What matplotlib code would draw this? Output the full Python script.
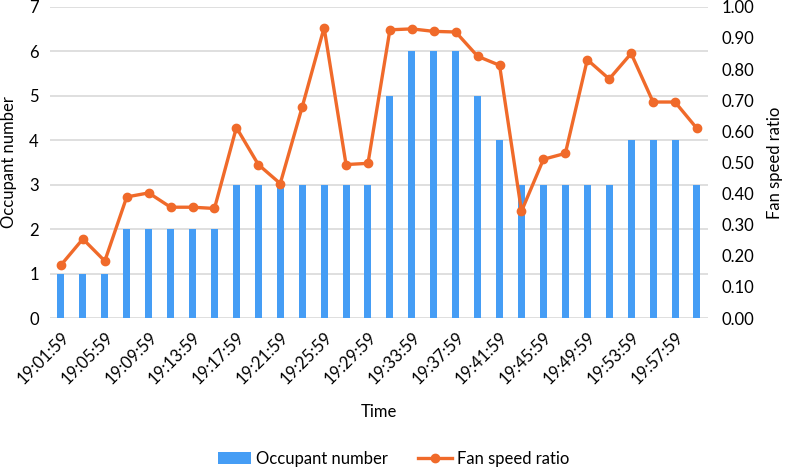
import matplotlib
matplotlib.use("Agg")
import matplotlib.pyplot as plt
import numpy as np

plt.rcParams['font.family'] = ['Lato', 'DejaVu Sans']

# --- data ---
times = ["19:%02d:59" % m for m in range(1, 60, 2)]
occupants = [1, 1, 1, 2, 2, 2, 2, 2, 3, 3, 3, 3, 3, 3, 3,
             5, 6, 6, 6, 5, 4, 3, 3, 3, 3, 3, 4, 4, 4, 3]
fan_ratio = [0.170, 0.254, 0.183, 0.389, 0.402, 0.356, 0.356, 0.352, 0.612, 0.493,
             0.432, 0.678, 0.933, 0.493, 0.497, 0.926, 0.929, 0.921, 0.919, 0.841,
             0.812, 0.343, 0.510, 0.529, 0.830, 0.768, 0.850, 0.694, 0.694, 0.609]
left_ticks = list(range(0, 8))
right_ticks = [i / 10 for i in range(0, 11)]

bar_color = '#459DF5'
line_color = '#F06A2A'
grid_color = '#D9D9D9'
fs = 12

fig = plt.figure(figsize=(7.87, 4.68), dpi=100)
ax = fig.add_axes([0.0635, 0.3205, 0.836, 0.665])
x = np.arange(len(times))

bars = ax.bar(x, occupants, width=0.32, color=bar_color, zorder=2,
              label='Occupant number')
ax.set_ylim(0, 7)
ax.set_xlim(-0.5, len(times) - 0.5)
ax.set_yticks(left_ticks)
ax.yaxis.grid(True, color=grid_color, lw=1.2, zorder=0)
ax.set_axisbelow(True)
for s in ax.spines.values():
    s.set_visible(False)
ax.tick_params(length=0, labelsize=fs, pad=8)
ax.set_xticks(x[::2])
ax.set_xticklabels(times[::2], rotation=45, ha='right', rotation_mode='anchor',
                   fontsize=fs)
ax.set_ylabel('Occupant number', fontsize=fs, labelpad=9)
ax.set_xlabel('Time', fontsize=fs, labelpad=12)

ax2 = ax.twinx()
line, = ax2.plot(x, fan_ratio, color=line_color, lw=2.4, marker='o',
                 markersize=6, zorder=3, label='Fan speed ratio')
ax2.set_ylim(0, 1.0)
ax2.set_yticks(right_ticks)
ax2.set_yticklabels(['%.2f' % t for t in right_ticks])
for s in ax2.spines.values():
    s.set_visible(False)
ax2.tick_params(length=0, labelsize=fs, pad=10)
ax2.set_ylabel('Fan speed ratio', fontsize=fs, labelpad=9)

fig.legend([bars, line], ['Occupant number', 'Fan speed ratio'],
           loc='lower center', bbox_to_anchor=(0.5, -0.03), ncol=2,
           frameon=False, fontsize=fs, handlelength=2.0, columnspacing=1.8,
           handletextpad=0.3)

fig.savefig('out.png', dpi=100)
